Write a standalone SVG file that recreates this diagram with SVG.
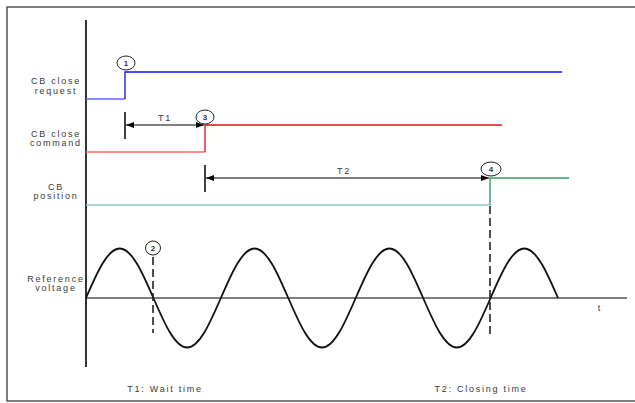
<svg xmlns="http://www.w3.org/2000/svg" width="635" height="403" viewBox="0 0 635 403">
<defs>
<marker id="ah" viewBox="0 0 8 6" refX="8" refY="3" markerWidth="8" markerHeight="6" markerUnits="userSpaceOnUse" orient="auto-start-reverse">
<path d="M0,0 L8,3 L0,6 Z" fill="#000"/>
</marker>
</defs>
<style>
.lbl{font-family:"Liberation Sans",Arial,sans-serif;font-size:9px;fill:#3a3a3a;letter-spacing:1.75px;text-anchor:middle}
.num{font-family:"Liberation Sans",Arial,sans-serif;font-size:8px;fill:#333;text-anchor:middle;font-weight:bold}
.circ{fill:#fff;stroke:#222;stroke-width:1}
.tick{stroke:#000;stroke-width:1.5;fill:none}
.dim{stroke:#000;stroke-width:1;fill:none;marker-start:url(#ah);marker-end:url(#ah)}
.dash{stroke:#222;stroke-width:1.6;stroke-dasharray:8,4;fill:none}
</style>
<rect x="7" y="7" width="640" height="394" fill="#fff" stroke="#555" stroke-width="1.5"/>

<g id="axes">
<line x1="86" y1="20" x2="86" y2="367" stroke="#000" stroke-width="1.6"/>
<line x1="86" y1="298" x2="627" y2="298" stroke="#000" stroke-width="1"/>
<text class="lbl" x="600" y="311">t</text>
</g>

<g id="close-request">
<text class="lbl" x="56" y="84">CB close</text>
<text class="lbl" x="56" y="94">request</text>
<path d="M86,99 H125" stroke="#6060ff" stroke-width="1.3" fill="none"/>
<path d="M125,99 V72 H562" stroke="#1010f0" stroke-width="1.3" fill="none"/>
</g>

<g id="close-command">
<text class="lbl" x="56" y="137">CB close</text>
<text class="lbl" x="56" y="146">command</text>
<path d="M86,152 H205" stroke="#ff6a6a" stroke-width="1.3" fill="none"/>
<path d="M205,152 V125 H502" stroke="#e81010" stroke-width="1.3" fill="none"/>
</g>

<g id="cb-position">
<text class="lbl" x="56" y="190">CB</text>
<text class="lbl" x="56" y="199">position</text>
<path d="M86,205 H490" stroke="#90c8b0" stroke-width="1.5" fill="none"/>
<path d="M490,205 V178 H569" stroke="#3a9a6a" stroke-width="1.4" fill="none"/>
</g>

<g id="reference-voltage">
<text class="lbl" x="56" y="282">Reference</text>
<text class="lbl" x="56" y="291">voltage</text>
<path d="M86,298 c10.996,-25.36 21.514,-49.5 33.715,-49.5 c12.201,0 22.719,24.14 33.715,49.5 c10.996,25.36 21.514,49.5 33.715,49.5 c12.201,0 22.719,-24.14 33.715,-49.5 c10.996,-25.36 21.514,-49.5 33.715,-49.5 c12.201,0 22.719,24.14 33.715,49.5 c10.996,25.36 21.514,49.5 33.715,49.5 c12.201,0 22.719,-24.14 33.715,-49.5 c10.996,-25.36 21.514,-49.5 33.715,-49.5 c12.201,0 22.719,24.14 33.715,49.5 c10.996,25.36 21.514,49.5 33.715,49.5 c12.201,0 22.719,-24.14 33.715,-49.5 c10.996,-25.36 21.514,-49.5 33.715,-49.5 c12.201,0 22.719,24.14 33.715,49.5" stroke="#111" stroke-width="1.8" fill="none"/>
</g>

<g id="connectors">
<line class="tick" x1="125" y1="112" x2="125" y2="139"/>
<line class="dim" x1="126" y1="125" x2="204" y2="125"/>
<line class="tick" x1="205" y1="165" x2="205" y2="192"/>
<line class="dim" x1="206" y1="178" x2="489" y2="178"/>
<line class="dash" x1="153" y1="257" x2="153" y2="333"/>
<line class="dash" x1="490" y1="206" x2="490" y2="338"/>
</g>

<g id="t1-label"><text class="lbl" x="165" y="121">T1</text></g>
<g id="t2-label"><text class="lbl" x="344" y="174">T2</text></g>

<g id="marker-1"><ellipse class="circ" cx="126" cy="63" rx="9" ry="7"/><text class="num" x="126" y="66">1</text></g>
<g id="marker-2"><ellipse class="circ" cx="153" cy="248" rx="7.5" ry="7"/><text class="num" x="153" y="251">2</text></g>
<g id="marker-3"><ellipse class="circ" cx="205" cy="117" rx="9" ry="7"/><text class="num" x="205" y="120">3</text></g>
<g id="marker-4"><ellipse class="circ" cx="491" cy="169" rx="10" ry="7"/><text class="num" x="491" y="172">4</text></g>

<g id="legend">
<text class="lbl" x="165" y="392">T1: Wait time</text>
<text class="lbl" x="481" y="392">T2: Closing time</text>
</g>
</svg>
